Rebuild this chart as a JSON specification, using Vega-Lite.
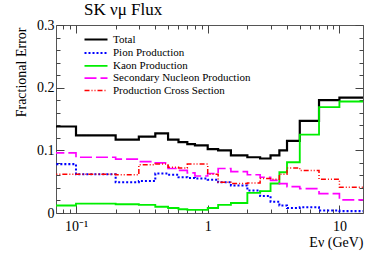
{
  "$schema": "https://vega.github.io/schema/vega-lite/v6.json",
  "width": 307,
  "height": 188,
  "autosize": "none",
  "padding": {"left": 56, "top": 25, "right": 11, "bottom": 40},
  "background": "white",
  "title": {
    "text": "SK νμ Flux",
    "anchor": "start",
    "frame": "group",
    "font": "Liberation Serif",
    "fontSize": 17,
    "fontWeight": "normal",
    "color": "black",
    "baseline": "alphabetic",
    "offset": 6,
    "dx": 28,
    "dy": 20
  },
  "config": {
    "view": {"stroke": "#555", "strokeWidth": 1},
    "font": "Liberation Serif",
    "axis": {"grid": false, "domain": false, "tickColor": "#444", "labelColor": "black", "titleColor": "black", "labelFont": "Liberation Serif", "titleFont": "Liberation Serif", "titleFontWeight": "normal"},
    "legend": {"labelFont": "Liberation Serif"}
  },
  "datasets": {
    "h": [
      {"s": "Total", "e": 0.05, "v": 0.138}, {"s": "Total", "e": 0.1, "v": 0.124}, {"s": "Total", "e": 0.2, "v": 0.117}, {"s": "Total", "e": 0.3, "v": 0.122}, {"s": "Total", "e": 0.4, "v": 0.127}, {"s": "Total", "e": 0.5, "v": 0.117}, {"s": "Total", "e": 0.6, "v": 0.113}, {"s": "Total", "e": 0.7, "v": 0.110}, {"s": "Total", "e": 0.8, "v": 0.108}, {"s": "Total", "e": 1.0, "v": 0.102}, {"s": "Total", "e": 1.2, "v": 0.100}, {"s": "Total", "e": 1.5, "v": 0.092}, {"s": "Total", "e": 2.0, "v": 0.089}, {"s": "Total", "e": 2.5, "v": 0.087}, {"s": "Total", "e": 3.0, "v": 0.092}, {"s": "Total", "e": 3.5, "v": 0.100}, {"s": "Total", "e": 4.0, "v": 0.115}, {"s": "Total", "e": 5.0, "v": 0.147}, {"s": "Total", "e": 7.0, "v": 0.180}, {"s": "Total", "e": 10.0, "v": 0.184}, {"s": "Total", "e": 30.0, "v": 0.184},
      {"s": "Pion Production", "e": 0.05, "v": 0.078}, {"s": "Pion Production", "e": 0.1, "v": 0.062}, {"s": "Pion Production", "e": 0.2, "v": 0.049}, {"s": "Pion Production", "e": 0.3, "v": 0.051}, {"s": "Pion Production", "e": 0.4, "v": 0.063}, {"s": "Pion Production", "e": 0.5, "v": 0.061}, {"s": "Pion Production", "e": 0.6, "v": 0.057}, {"s": "Pion Production", "e": 0.7, "v": 0.056}, {"s": "Pion Production", "e": 0.8, "v": 0.055}, {"s": "Pion Production", "e": 1.0, "v": 0.053}, {"s": "Pion Production", "e": 1.2, "v": 0.049}, {"s": "Pion Production", "e": 1.5, "v": 0.044}, {"s": "Pion Production", "e": 2.0, "v": 0.036}, {"s": "Pion Production", "e": 2.5, "v": 0.027}, {"s": "Pion Production", "e": 3.0, "v": 0.018}, {"s": "Pion Production", "e": 3.5, "v": 0.012}, {"s": "Pion Production", "e": 4.0, "v": 0.008}, {"s": "Pion Production", "e": 5.0, "v": 0.009}, {"s": "Pion Production", "e": 7.0, "v": 0.004}, {"s": "Pion Production", "e": 10.0, "v": 0.003}, {"s": "Pion Production", "e": 30.0, "v": 0.003},
      {"s": "Kaon Production", "e": 0.05, "v": 0.012}, {"s": "Kaon Production", "e": 0.1, "v": 0.015}, {"s": "Kaon Production", "e": 0.2, "v": 0.014}, {"s": "Kaon Production", "e": 0.3, "v": 0.013}, {"s": "Kaon Production", "e": 0.4, "v": 0.010}, {"s": "Kaon Production", "e": 0.5, "v": 0.008}, {"s": "Kaon Production", "e": 0.6, "v": 0.006}, {"s": "Kaon Production", "e": 0.7, "v": 0.005}, {"s": "Kaon Production", "e": 0.8, "v": 0.005}, {"s": "Kaon Production", "e": 1.0, "v": 0.008}, {"s": "Kaon Production", "e": 1.2, "v": 0.013}, {"s": "Kaon Production", "e": 1.5, "v": 0.016}, {"s": "Kaon Production", "e": 2.0, "v": 0.032}, {"s": "Kaon Production", "e": 2.5, "v": 0.035}, {"s": "Kaon Production", "e": 3.0, "v": 0.047}, {"s": "Kaon Production", "e": 3.5, "v": 0.065}, {"s": "Kaon Production", "e": 4.0, "v": 0.081}, {"s": "Kaon Production", "e": 5.0, "v": 0.125}, {"s": "Kaon Production", "e": 7.0, "v": 0.169}, {"s": "Kaon Production", "e": 10.0, "v": 0.178}, {"s": "Kaon Production", "e": 30.0, "v": 0.178},
      {"s": "Secondary Nucleon Production", "e": 0.05, "v": 0.096}, {"s": "Secondary Nucleon Production", "e": 0.1, "v": 0.089}, {"s": "Secondary Nucleon Production", "e": 0.2, "v": 0.086}, {"s": "Secondary Nucleon Production", "e": 0.3, "v": 0.082}, {"s": "Secondary Nucleon Production", "e": 0.4, "v": 0.080}, {"s": "Secondary Nucleon Production", "e": 0.5, "v": 0.071}, {"s": "Secondary Nucleon Production", "e": 0.6, "v": 0.068}, {"s": "Secondary Nucleon Production", "e": 0.7, "v": 0.064}, {"s": "Secondary Nucleon Production", "e": 0.8, "v": 0.059}, {"s": "Secondary Nucleon Production", "e": 1.0, "v": 0.063}, {"s": "Secondary Nucleon Production", "e": 1.2, "v": 0.071}, {"s": "Secondary Nucleon Production", "e": 1.5, "v": 0.066}, {"s": "Secondary Nucleon Production", "e": 2.0, "v": 0.061}, {"s": "Secondary Nucleon Production", "e": 2.5, "v": 0.057}, {"s": "Secondary Nucleon Production", "e": 3.0, "v": 0.052}, {"s": "Secondary Nucleon Production", "e": 3.5, "v": 0.047}, {"s": "Secondary Nucleon Production", "e": 4.0, "v": 0.042}, {"s": "Secondary Nucleon Production", "e": 5.0, "v": 0.039}, {"s": "Secondary Nucleon Production", "e": 7.0, "v": 0.031}, {"s": "Secondary Nucleon Production", "e": 10.0, "v": 0.021}, {"s": "Secondary Nucleon Production", "e": 30.0, "v": 0.021},
      {"s": "Production Cross Section", "e": 0.05, "v": 0.062}, {"s": "Production Cross Section", "e": 0.1, "v": 0.062}, {"s": "Production Cross Section", "e": 0.2, "v": 0.061}, {"s": "Production Cross Section", "e": 0.3, "v": 0.077}, {"s": "Production Cross Section", "e": 0.4, "v": 0.078}, {"s": "Production Cross Section", "e": 0.5, "v": 0.073}, {"s": "Production Cross Section", "e": 0.6, "v": 0.072}, {"s": "Production Cross Section", "e": 0.7, "v": 0.078}, {"s": "Production Cross Section", "e": 0.8, "v": 0.078}, {"s": "Production Cross Section", "e": 1.0, "v": 0.062}, {"s": "Production Cross Section", "e": 1.2, "v": 0.049}, {"s": "Production Cross Section", "e": 1.5, "v": 0.047}, {"s": "Production Cross Section", "e": 2.0, "v": 0.048}, {"s": "Production Cross Section", "e": 2.5, "v": 0.055}, {"s": "Production Cross Section", "e": 3.0, "v": 0.054}, {"s": "Production Cross Section", "e": 3.5, "v": 0.062}, {"s": "Production Cross Section", "e": 4.0, "v": 0.072}, {"s": "Production Cross Section", "e": 5.0, "v": 0.068}, {"s": "Production Cross Section", "e": 7.0, "v": 0.054}, {"s": "Production Cross Section", "e": 10.0, "v": 0.041}, {"s": "Production Cross Section", "e": 30.0, "v": 0.041}
    ]
  },
  "data": {"name": "h"},
  "layer": [
    {
      "mark": {"type": "line", "interpolate": "step-after", "clip": true},
      "encoding": {
        "x": {
          "field": "e", "type": "quantitative",
          "scale": {"type": "log", "domain": [0.0705, 15.1], "nice": false},
          "axis": {
            "orient": "bottom",
            "values": [0.08, 0.09, 0.1, 0.2, 0.3, 0.4, 0.5, 0.6, 0.7, 0.8, 0.9, 1, 2, 3, 4, 5, 6, 7, 8, 9, 10],
            "tickSize": {"condition": {"test": "abs(log(datum.value)/LN10 - round(log(datum.value)/LN10)) < 0.001", "value": -8}, "value": -4},
            "labelExpr": "abs(log(datum.value)/LN10 - round(log(datum.value)/LN10)) < 0.001 ? (datum.value < 0.5 ? '10⁻¹' : format(datum.value, '~g')) : ''",
            "labelFontSize": 14,
            "labelAlign": "center",
            "labelBaseline": "top",
            "labelPadding": 14,
            "title": "Eν (GeV)",
            "titleFontSize": 14,
            "titleAlign": "right",
            "titleBaseline": "alphabetic",
            "titleX": 307,
            "titleY": 33
          }
        },
        "y": {
          "field": "v", "type": "quantitative",
          "scale": {"domain": [0, 0.3], "nice": false, "zero": false},
          "axis": {
            "orient": "left",
            "values": [0, 0.02, 0.04, 0.06, 0.08, 0.1, 0.12, 0.14, 0.16, 0.18, 0.2, 0.22, 0.24, 0.26, 0.28, 0.3],
            "tickSize": {"condition": {"test": "abs(datum.value*10 - round(datum.value*10)) < 0.001", "value": -8}, "value": -4},
            "labelExpr": "abs(datum.value*10 - round(datum.value*10)) < 0.001 ? format(datum.value, '.1~f') : ''",
            "labelFontSize": 14,
            "labelAlign": "right",
            "labelBaseline": "middle",
            "labelPadding": 10,
            "title": "Fractional Error",
            "titleFontSize": 14,
            "titleAngle": -90,
            "titleAlign": "right",
            "titleBaseline": "alphabetic",
            "titleX": -31,
            "titleY": 2
          }
        },
        "color": {
          "field": "s", "type": "nominal",
          "scale": {
            "domain": ["Total", "Pion Production", "Kaon Production", "Secondary Nucleon Production", "Production Cross Section"],
            "range": ["#000000", "#0000ff", "#00ee00", "#ff00ff", "#ff0000"]
          },
          "legend": {
            "orient": "none", "legendX": 33.5, "legendY": 8,
            "title": null, "symbolType": "M-2.3,0H2.3", "symbolSize": 100,
            "labelFontSize": 11, "labelOffset": 10.5, "padding": 0, "rowPadding": 1.4,
            "labelColor": "black"
          }
        },
        "strokeDash": {
          "field": "s", "type": "nominal",
          "scale": {
            "domain": ["Total", "Pion Production", "Kaon Production", "Secondary Nucleon Production", "Production Cross Section"],
            "range": [[1, 0], [2, 2], [1, 0], [12, 4], [5, 2, 1, 2, 1, 2]]
          },
          "legend": null
        },
        "strokeWidth": {
          "field": "s", "type": "nominal",
          "scale": {
            "domain": ["Total", "Pion Production", "Kaon Production", "Secondary Nucleon Production", "Production Cross Section"],
            "range": [2.2, 1.5, 1.5, 1.8, 1.5]
          },
          "legend": null
        }
      }
    },
    {
      "transform": [{"filter": "false"}],
      "mark": {"type": "line"},
      "encoding": {
        "x": {
          "field": "e", "type": "quantitative",
          "axis": {
            "orient": "top",
            "values": [0.08, 0.09, 0.1, 0.2, 0.3, 0.4, 0.5, 0.6, 0.7, 0.8, 0.9, 1, 2, 3, 4, 5, 6, 7, 8, 9, 10],
            "tickSize": {"condition": {"test": "abs(log(datum.value)/LN10 - round(log(datum.value)/LN10)) < 0.001", "value": -8}, "value": -4},
            "labels": false, "title": null
          }
        },
        "y": {
          "field": "v", "type": "quantitative",
          "axis": {
            "orient": "right",
            "values": [0, 0.02, 0.04, 0.06, 0.08, 0.1, 0.12, 0.14, 0.16, 0.18, 0.2, 0.22, 0.24, 0.26, 0.28, 0.3],
            "tickSize": {"condition": {"test": "abs(datum.value*10 - round(datum.value*10)) < 0.001", "value": -8}, "value": -4},
            "labels": false, "title": null
          }
        }
      }
    }
  ],
  "resolve": {"axis": {"x": "independent", "y": "independent"}}
}
